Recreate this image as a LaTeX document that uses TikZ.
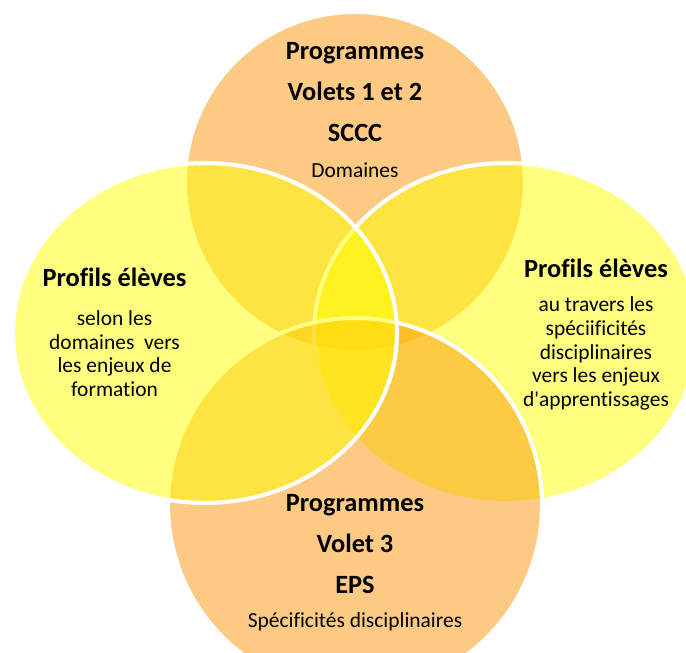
\documentclass[tikz,border=0pt]{standalone}
\usepackage{fontspec}
\setmainfont{Carlito}[Ligatures=NoCommon]
\definecolor{vennorange}{RGB}{253,151,11}
\definecolor{vennyellow}{RGB}{255,255,0}
\tikzset{
  disc/.style={draw=white,line width=2.3pt,fill opacity=0.5},
  titre/.style={font=\fontsize{15}{23.3}\selectfont\bfseries,align=center},
  texte/.style={font=\fontsize{12.2}{13.4}\selectfont,align=center},
}

\begin{document}
\begin{tikzpicture}
\clip (0,0) rectangle (13.72,13.06);
\fill[white] (0,0) rectangle (13.72,13.06);
% the four sets, top, right, bottom, left
\filldraw[disc,fill=vennorange] (7.1,9.42) circle [radius=3.4];
\filldraw[disc,fill=vennyellow] (10.12,6.4) ellipse [x radius=3.84cm,y radius=3.4cm];
\filldraw[disc,fill=vennorange] (7.1,2.96) circle [radius=3.74];
\filldraw[disc,fill=vennyellow] (4.1,6.4) ellipse [x radius=3.84cm,y radius=3.4cm];
% labels
\node[titre] (progA) at (7.1,11.22) {Programmes\\Volets 1 et 2\\SCCC};
\node[texte] (domA) at (7.1,9.66) {Domaines};
\node[titre] (profG) at (2.29,7.52) {Profils élèves};
\node[texte] (txtG) at (2.29,5.99) {selon les\\domaines~ vers\\les enjeux de\\formation};
\node[titre] (profD) at (11.92,7.70) {Profils élèves};
\node[texte] (txtD) at (11.92,5.99) {au travers les\\spéciificités\\disciplinaires\\vers les enjeux\\d\textquotesingle apprentissages};
\node[titre] (progB) at (7.1,2.18) {Programmes\\Volet 3\\EPS};
\node[texte] (specB) at (7.1,0.62) {Spécificités disciplinaires};
\end{tikzpicture}
\end{document}
